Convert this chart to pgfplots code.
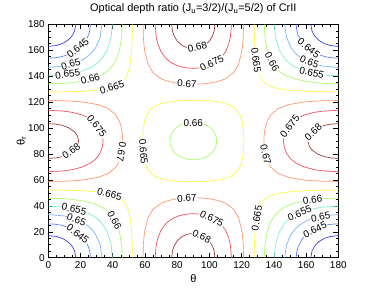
\documentclass[border=0pt]{standalone}
\usepackage{fontspec}
\setmainfont{Liberation Sans}
\usepackage{pgfplots}
\usepackage{pgfplotstable}
\pgfplotsset{compat=1.18}
\definecolor{k640}{RGB}{60,60,230}
\definecolor{k645}{RGB}{90,130,255}
\definecolor{k650}{RGB}{120,180,255}
\definecolor{k655}{RGB}{120,240,210}
\definecolor{k660}{RGB}{170,250,110}
\definecolor{k665}{RGB}{250,250,70}
\definecolor{k670}{RGB}{255,150,110}
\definecolor{k675}{RGB}{240,80,90}
\definecolor{k680}{RGB}{160,60,60}

\pgfplotstableread{
t r tm rm
0 17.06 180 162.94
5 16.36 175 163.64
8.36 15 171.64 165
10 14 170 166
12.18 12.18 167.82 167.82
14 10 166 170
15 8.36 165 171.64
16.36 5 163.64 175
17.06 0 162.94 180
}\cornA
\pgfplotstableread{
t r tm rm
0 26.1 180 153.9
4 25.85 176 154.15
8 25.06 172 154.94
14 22.64 166 157.36
18.92 18.92 161.08 161.08
22.64 14 157.36 166
25.06 8 154.94 172
25.85 4 154.15 176
26.1 0 153.9 180
}\cornB
\pgfplotstableread{
t r tm rm
0 33.28 180 146.72
10 32.19 170 147.81
18 29.36 162 150.64
22 26.87 158 153.13
24.6 24.6 155.4 155.4
26.87 22 153.13 158
29.36 18 150.64 162
32.19 10 147.81 170
33.28 0 146.72 180
}\cornC
\pgfplotstableread{
t r tm rm
0 39.74 180 140.26
10 39.03 170 140.97
20 36.54 160 143.46
26 33.55 154 146.45
28 32.12 152 147.88
30.18 30.18 149.82 149.82
32.12 28 147.88 152
33.55 26 146.45 154
36.54 20 143.46 160
39.03 10 140.97 170
39.74 0 140.26 180
}\cornD
\pgfplotstableread{
t r tm rm
0 45.92 180 134.08
10 45.53 170 134.47
20 44.15 160 135.85
28 41.79 152 138.21
32 39.8 148 140.2
35 37.66 145 142.34
36.39 36.39 143.61 143.61
37.66 35 142.34 145
39.8 32 140.2 148
41.79 28 138.21 152
44.15 20 135.85 160
45.53 10 134.47 170
45.92 0 134.08 180
}\cornE
\pgfplotstableread{
t r tm rm
0 52.16 180 127.84
10 52.06 170 127.94
20 51.71 160 128.29
30 50.87 150 129.13
36 49.84 144 130.16
40 48.64 140 131.36
43 47.17 137 132.83
45.33 45.33 134.67 134.67
47.17 43 132.83 137
48.64 40 131.36 140
49.84 36 130.16 144
50.87 30 129.13 150
51.71 20 128.29 160
52.06 10 127.94 170
52.16 0 127.84 180
}\cornF
\pgfplotstableread{
t r rm
58.8 0 180
59 10.2 169.8
59.5 17.4 162.6
60 21.75 158.25
62 31.05 148.95
65 37.33 142.67
70 42.03 137.97
75 44.25 135.75
80 45.42 134.58
85 46.0 134.0
90 46.19 133.81
95 46.0 134.0
100 45.42 134.58
105 44.25 135.75
110 42.03 137.97
115 37.33 142.67
118 31.05 148.95
120 21.75 158.25
120.5 17.4 162.6
121 10.2 169.8
121.2 0 180
}\edgeA
\pgfplotstableread{
t r rm
66.3 0 180
67 10 170
68 15.25 164.75
70 21.2 158.8
73 26.29 153.71
76 29.36 150.64
80 31.87 148.13
85 33.5 146.5
90 33.99 146.01
95 33.5 146.5
100 31.87 148.13
104 29.36 150.64
107 26.29 153.71
110 21.2 158.8
112 15.25 164.75
113 10 170
113.7 0 180
}\edgeB
\pgfplotstableread{
t r rm
76.6 0 180
77 4.87 175.13
78 8.8 171.2
80 12.95 167.05
83 16.3 163.7
86 18.06 161.94
90 18.83 161.17
94 18.06 161.94
97 16.3 163.7
100 12.95 167.05
102 8.8 171.2
103 4.87 175.13
103.4 0 180
}\edgeC

\newcommand\corner[2]{%
 \addplot[#1] table[x=t,y=r]{#2};
 \addplot[#1] table[x=tm,y=r]{#2};
 \addplot[#1] table[x=t,y=rm]{#2};
 \addplot[#1] table[x=tm,y=rm]{#2};}
\newcommand\edge[2]{%
 \addplot[#1] table[x=t,y=r]{#2};
 \addplot[#1] table[x=t,y=rm]{#2};
 \addplot[#1] table[x=r,y=t]{#2};
 \addplot[#1] table[x=rm,y=t]{#2};}
\tikzset{clab/.style={font=\fontsize{10}{12}\selectfont, fill=white, inner sep=0.7pt, text=black}}
\newcommand\clab[5]{\addplot[draw=none] coordinates {(#1,#2) (#3,#4)} node[pos=0.5,sloped,allow upside down,clab]{#5};}

\begin{document}
\begin{tikzpicture}
\begin{axis}[
 at={(48.3bp,33.3bp)}, anchor=south west,
 scale only axis, width=290bp, height=233.4bp,
 xmin=0,xmax=180,ymin=0,ymax=180,
 xtick={0,20,...,180}, ytick={0,20,...,180},
 minor tick num=3,
 tick align=inside,
 major tick length=5bp, minor tick length=2.5bp,
 tick style={black, line width=0.5pt},
 /pgf/number format/assume math mode=true,
 tick label style={font=\fontsize{10}{12}\selectfont},
 title={Optical depth ratio (J\textsubscript{u}=3/2)/(J\textsubscript{u}=5/2) of CrII},
 title style={font=\fontsize{11}{13}\selectfont, at={(0.5,1)}, anchor=base, yshift=6.5bp},
 xlabel={θ}, xlabel style={font=\fontsize{11}{13}\selectfont, at={(0.5,0)}, anchor=base, yshift=-25bp},
 ylabel={θ\textsubscript{r}}, ylabel style={font=\fontsize{11}{13}\selectfont, at={(-0.082,0.5)}, anchor=base},
 axis line style={line width=0.6pt},
 every axis plot/.append style={line width=0.7pt, no markers},
]
\corner{k640}{\cornA}
\corner{k645}{\cornB}
\corner{k650}{\cornC}
\corner{k655}{\cornD}
\corner{k660}{\cornE}
\corner{k665}{\cornF}
\edge{k670}{\edgeA}
\edge{k675}{\edgeB}
\edge{k680}{\edgeC}
\addplot[k660] coordinates {(90,75.52) (91.6,75.6) (94,76) (98.54,78) (100.44,79.56) (102,81.46) (104,86) (104.4,88.4) (104.48,90) (104.4,91.6) (104,94) (102,98.54) (100.44,100.44) (98.54,102) (94,104) (91.6,104.4) (90,104.48) (88.4,104.4) (86,104) (81.46,102) (79.56,100.44) (78,98.54) (76,94) (75.6,91.6) (75.52,90) (75.6,88.4) (76,86) (78,81.46) (79.56,79.56) (81.46,78) (86,76) (88.4,75.6) (90,75.52)};
\addplot[k665] coordinates {(90,58.63) (95,58.75) (100,59.08) (105,59.75) (110,61.04) (114,63.08) (115.59,64.41) (116.92,66) (118.96,70) (120.25,75) (120.92,80) (121.25,85) (121.37,90) (121.25,95) (120.92,100) (120.25,105) (118.96,110) (116.92,114) (115.59,115.59) (114,116.92) (110,118.96) (105,120.25) (100,120.92) (95,121.25) (90,121.37) (85,121.25) (80,120.92) (75,120.25) (70,118.96) (66,116.92) (64.41,115.59) (63.08,114) (61.04,110) (59.75,105) (59.08,100) (58.75,95) (58.63,90) (58.75,85) (59.08,80) (59.75,75) (61.04,70) (63.08,66) (64.41,64.41) (66,63.08) (70,61.04) (75,59.75) (80,59.08) (85,58.75) (90,58.63)};
% labels top-left
\clab{14}{157.36}{22.64}{166}{0.645}
\clab{10}{147.81}{18}{150.64}{0.65}
\clab{6}{140.55}{18}{142.9}{0.655}
\clab{22}{136.4}{30}{139.2}{0.66}
\clab{36}{130.16}{43}{132.83}{0.665}
% top centre
\clab{88.5}{161.3}{96.5}{163.4}{0.68}
\clab{97}{147.1}{106}{152.7}{0.675}
\clab{81}{134.45}{91}{133.82}{0.67}
% top right
\clab{157.36}{166}{166}{157.36}{0.645}
\clab{158}{153.13}{166}{149.1}{0.65}
\clab{159}{143.9}{168}{141.4}{0.655}
\clab{137.6}{154}{140.2}{148}{0.66}
\clab{128.4}{158}{129.6}{147}{0.665}
% middle
\clab{27.3}{106}{32.9}{97}{0.675}
\clab{10.9}{79}{17.5}{85}{0.68}
\clab{46.05}{86.5}{44.7}{77}{0.67}
\clab{58.8}{86}{59.3}{77.5}{0.665}
\clab{86}{104}{94}{104}{0.66}
\clab{147.1}{97}{152.7}{106}{0.675}
\clab{161.94}{94}{167.05}{100}{0.68}
\clab{134.1}{84}{135.75}{75}{0.67}
% bottom left
\clab{34}{50.2}{42}{47.65}{0.665}
\clab{39.8}{32}{42.4}{26}{0.66}
\clab{11}{38.8}{21}{36.04}{0.655}
\clab{13}{31.1}{22}{26.87}{0.65}
\clab{14}{22.64}{22.64}{14}{0.645}
% bottom centre
\clab{81}{45.55}{91}{46.18}{0.67}
\clab{97}{32.9}{106}{27.3}{0.675}
\clab{91.5}{18.7}{99}{14.1}{0.68}
% bottom right
\clab{128.7}{25}{130.16}{36}{0.665}
\clab{158}{43.6}{170}{45.53}{0.66}
\clab{152}{32.12}{160}{36.54}{0.655}
\clab{164}{30.1}{174}{32.63}{0.65}
\clab{161.08}{18.92}{170}{24.25}{0.645}
\end{axis}
\pgfresetboundingbox
\path[use as bounding box] (0,0) rectangle (374bp,291bp);
\end{tikzpicture}
\end{document}
